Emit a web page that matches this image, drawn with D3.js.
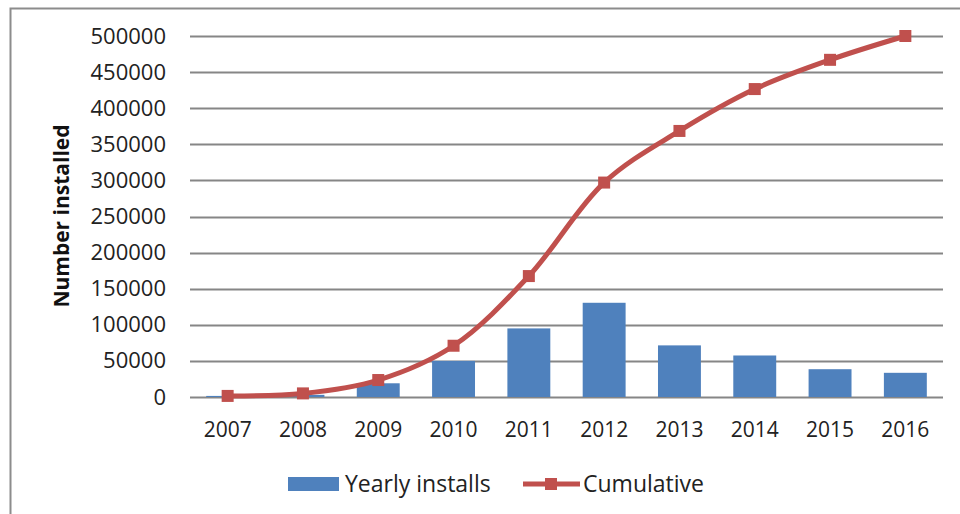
<!DOCTYPE html>
<html>
<head>
<meta charset="utf-8">
<script src="https://cdn.jsdelivr.net/npm/d3@7"></script>
<style>
  body { margin: 0; background: #fff; }
  svg { display: block; font-family: "Open Sans", sans-serif; }
</style>
</head>
<body>
<svg id="chart" width="960" height="514"></svg>
<script>
// chart data
const years = ['2007', '2008', '2009', '2010', '2011', '2012', '2013', '2014', '2015', '2016'];
const yearly = [1500, 3000, 19000, 50000, 95000, 130500, 71500, 57500, 38500, 33500];
const cumulative = [1500, 5000, 23500, 71000, 167500, 297000, 368500, 426500, 467000, 500000];
const yTicks = [0, 50000, 100000, 150000, 200000, 250000, 300000, 350000, 400000, 450000, 500000];

const svg = d3.select('#chart');

const margin = {top: 36, left: 190, right: 17, bottom: 117};
const width = 960 - margin.left - margin.right,
      height = 514 - margin.top - margin.bottom;

// outer frame
svg.append('rect')
    .attr('x', 10.5).attr('y', 8.5)
    .attr('width', 980).attr('height', 540)
    .attr('fill', 'none')
    .attr('stroke', '#8c8c8c')
    .attr('stroke-width', 2);

const g = svg.append('g')
    .attr('transform', `translate(${margin.left},${margin.top})`);

const x = d3.scaleBand().domain(years).range([0, width]).paddingInner(0.43).paddingOuter(0.215);
const xPoint = d => x(d) + x.bandwidth() / 2;
const y = d3.scaleLinear().domain([0, 500000]).range([height, 0]);

// gridlines
g.append('g')
    .selectAll('line')
    .data(yTicks)
    .join('line')
    .attr('x1', 0).attr('x2', width)
    .attr('y1', d => Math.round(y(d)) + 0.5)
    .attr('y2', d => Math.round(y(d)) + 0.5)
    .attr('stroke', '#868686')
    .attr('stroke-width', 2);

// y axis labels
const yAxis = g.append('g')
    .call(d3.axisLeft(y).tickValues(yTicks).tickFormat(d3.format('d')).tickSize(0).tickPadding(24));
yAxis.select('.domain').remove();
yAxis.selectAll('text')
    .attr('font-size', '22px')
    .attr('fill', '#222')
    .attr('font-family', '"Open Sans", sans-serif');

// x axis labels
const xAxis = g.append('g')
    .attr('transform', `translate(0,${height})`)
    .call(d3.axisBottom(x).tickSize(0).tickPadding(25));
xAxis.select('.domain').remove();
xAxis.selectAll('text')
    .attr('font-size', '21px')
    .attr('fill', '#222')
    .attr('font-family', '"Open Sans", sans-serif');

// bars
g.append('g')
    .selectAll('rect')
    .data(yearly)
    .join('rect')
    .attr('x', (d, i) => x(years[i]))
    .attr('y', d => y(d))
    .attr('width', x.bandwidth())
    .attr('height', d => height - y(d))
    .attr('fill', '#4f81bd');

// cumulative line
const line = d3.line()
    .x((d, i) => xPoint(years[i]))
    .y(d => y(d))
    .curve(d3.curveCatmullRom.alpha(0.5));

g.append('path')
    .datum(cumulative)
    .attr('d', line)
    .attr('fill', 'none')
    .attr('stroke', '#c0504d')
    .attr('stroke-width', 5)
    .attr('stroke-linejoin', 'round');

g.append('g')
    .selectAll('rect')
    .data(cumulative)
    .join('rect')
    .attr('x', (d, i) => xPoint(years[i]) - 6)
    .attr('y', d => y(d) - 6)
    .attr('width', 12).attr('height', 12)
    .attr('fill', '#c0504d');

// y title
svg.append('text')
    .attr('transform', 'translate(69,216) rotate(-90)')
    .attr('text-anchor', 'middle')
    .attr('font-size', '21px')
    .attr('font-weight', 'bold')
    .attr('fill', '#111')
    .text('Number installed');

// legend
const legend = svg.append('g');
legend.append('rect')
    .attr('x', 288).attr('y', 477)
    .attr('width', 51).attr('height', 14)
    .attr('fill', '#4f81bd');
legend.append('text')
    .attr('x', 345).attr('y', 492)
    .attr('font-size', '23px')
    .attr('fill', '#222')
    .text('Yearly installs');
legend.append('line')
    .attr('x1', 523).attr('x2', 580)
    .attr('y1', 484).attr('y2', 484)
    .attr('stroke', '#c0504d')
    .attr('stroke-width', 5);
legend.append('rect')
    .attr('x', 545).attr('y', 478)
    .attr('width', 12).attr('height', 12)
    .attr('fill', '#c0504d');
legend.append('text')
    .attr('x', 583).attr('y', 492)
    .attr('font-size', '23px')
    .attr('fill', '#222')
    .text('Cumulative');
</script>
</body>
</html>
